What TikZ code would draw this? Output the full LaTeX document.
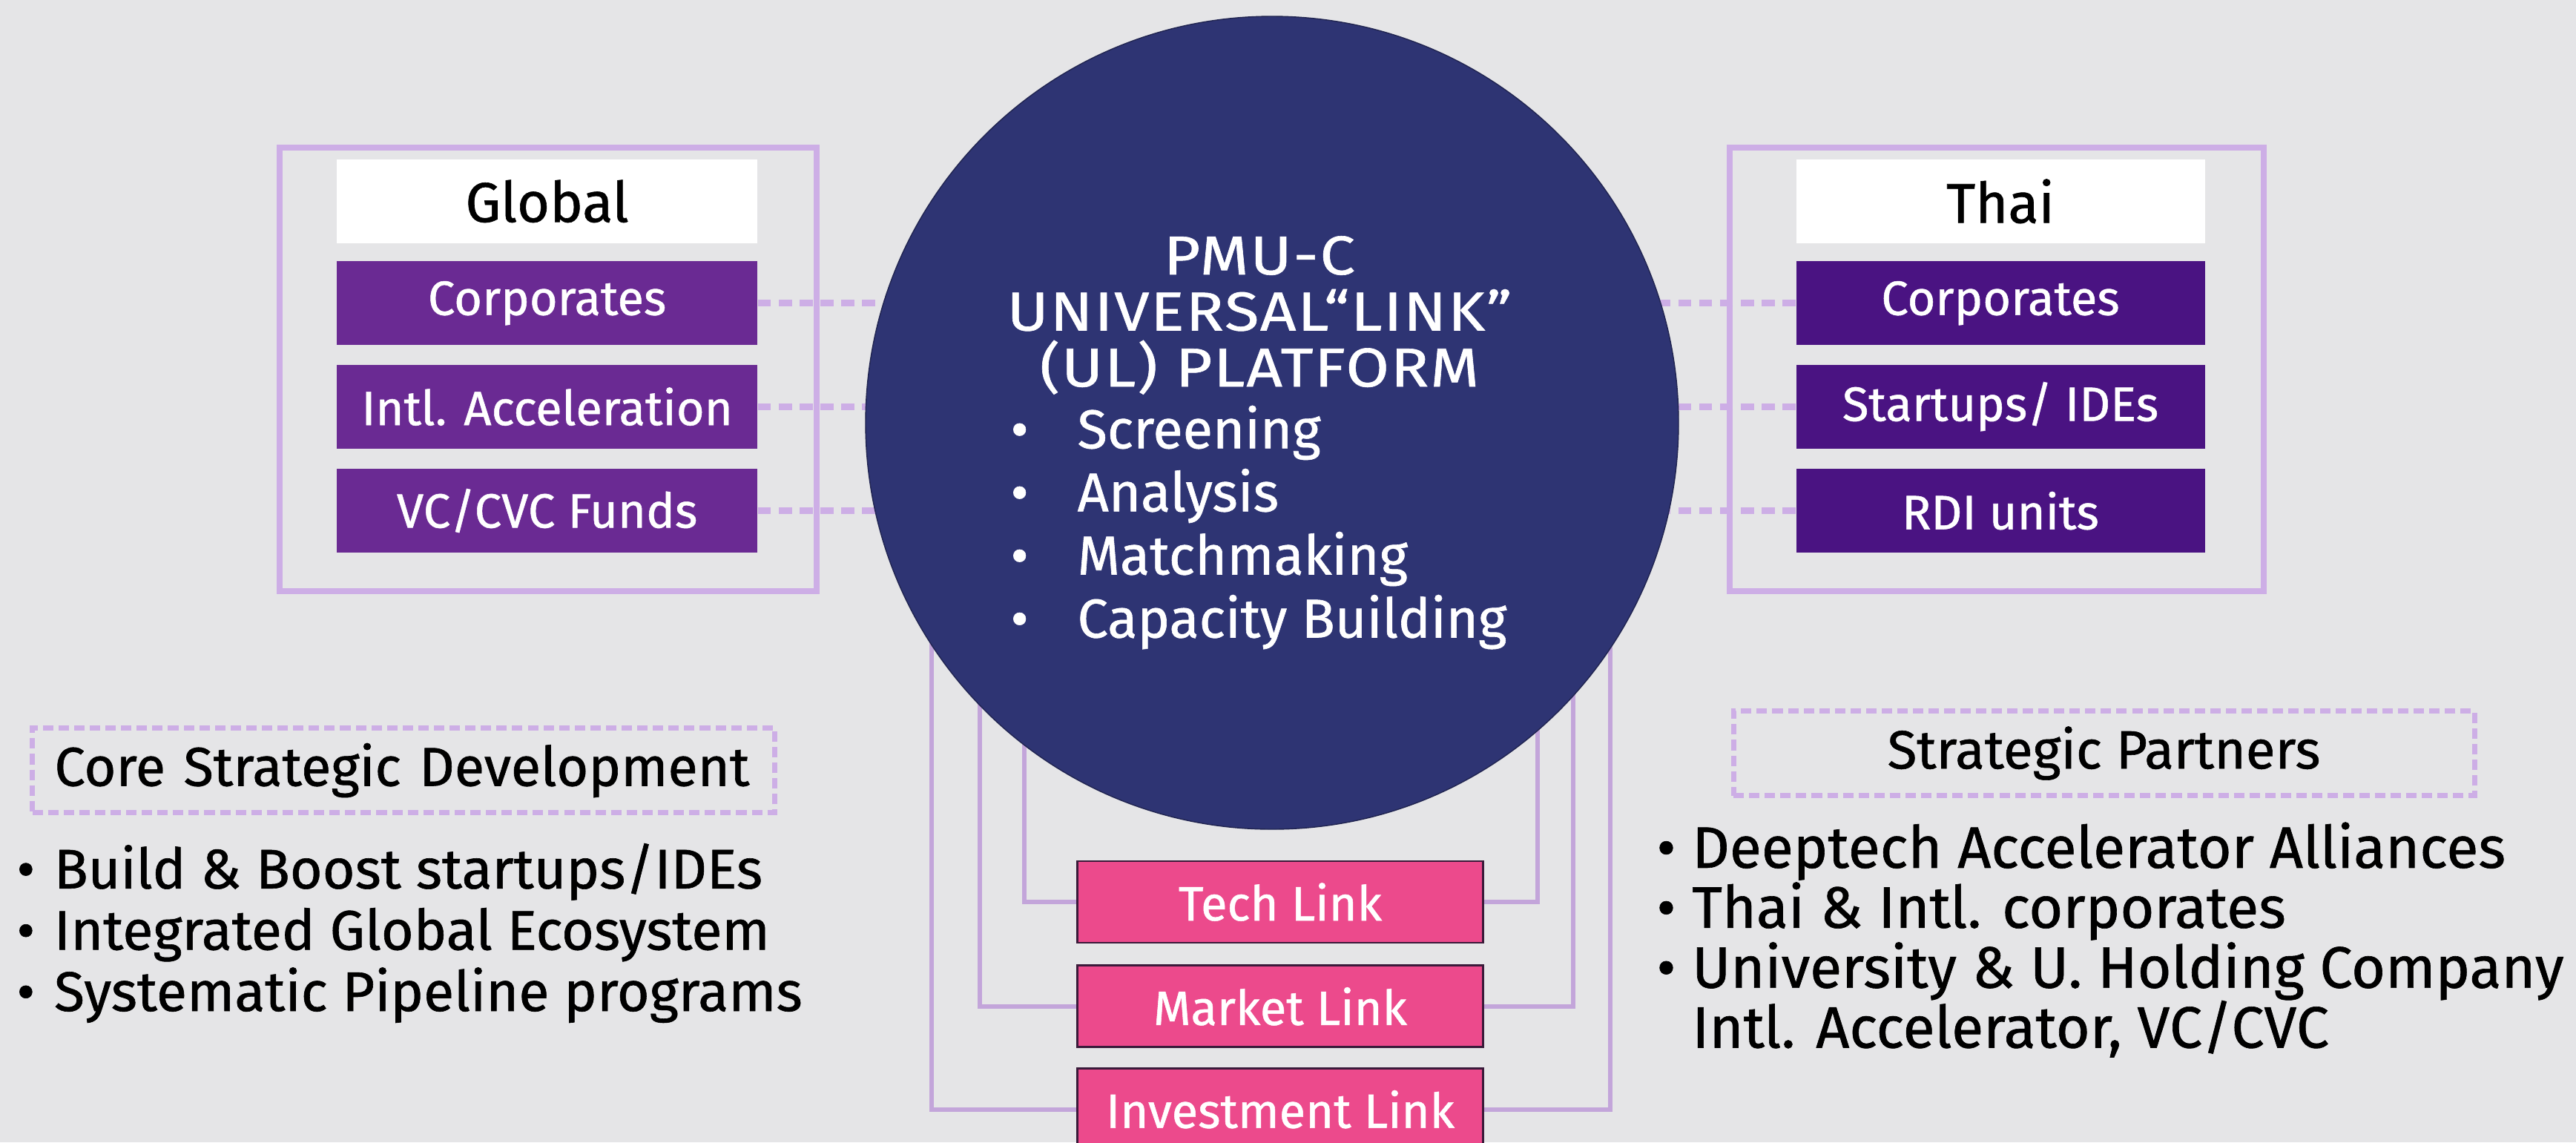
\documentclass[tikz,border=0pt]{standalone}
\usepackage{fontspec}
\setmainfont{Fira Sans}[FakeBold=0.8]
\newfontfamily\ulwide{Fira Sans}[FakeBold=0.8, FakeStretch=1.15, LetterSpace=2.5]
\usetikzlibrary{positioning, calc}
\definecolor{bgGray}{HTML}{E5E5E7}
\definecolor{frameLav}{HTML}{CDAEE6}
\definecolor{globalPurple}{HTML}{6A2A93}
\definecolor{thaiPurple}{HTML}{4A1382}
\definecolor{ulNavy}{HTML}{2E3473}
\definecolor{linkPink}{HTML}{EC4A8C}
\definecolor{linkEdge}{HTML}{3A1A3A}

\begin{document}
\begin{tikzpicture}[
    headbox/.style={rectangle, fill=white, inner sep=0pt, minimum height=1.13cm,
      font=\fontsize{21.5}{23}\selectfont},
    gbox/.style={rectangle, fill=globalPurple, text=white, inner sep=0pt,
      minimum width=5.67cm, minimum height=1.13cm, font=\fontsize{18.5}{20}\selectfont},
    tbox/.style={gbox, fill=thaiPurple, minimum width=5.51cm},
    linkbox/.style={rectangle, fill=linkPink, draw=linkEdge, line width=0.8pt, text=white,
      inner sep=0pt, minimum width=5.47cm, minimum height=1.1cm, font=\fontsize{18.5}{20}\selectfont},
    frame/.style={draw=frameLav, line width=2.2pt, rectangle, inner sep=0pt},
    dashline/.style={draw=frameLav, line width=2.6pt, dash pattern=on 5pt off 3pt},
    linkline/.style={draw=frameLav!95!black, line width=1.8pt},
    dashbox/.style={rectangle, draw=frameLav, line width=2pt, dash pattern=on 4pt off 2pt,
      minimum height=1.14cm, font=\fontsize{21}{23}\selectfont},
    listtext/.style={inner sep=0pt, align=left, font=\fontsize{21.4}{23.5}\selectfont}
  ]
  \clip (0,0) rectangle (34.73,-15.40);
  \fill[bgGray] (0,0) rectangle (34.73,-15.40);

  % left panel
  \node[frame, minimum width=7.24cm, minimum height=5.98cm] (GF) at (7.39,-4.98) {};
  \node[headbox, minimum width=5.67cm] (GH) at (7.376,-2.713) {Global};
  \node[gbox, below=0.23cm of GH] (G1) {Corporates};
  \node[gbox, below=0.25cm of G1] (G2) {Intl. Acceleration};
  \node[gbox, below=0.26cm of G2] (G3) {VC/CVC Funds};

  % right panel
  \node[frame, minimum width=7.2cm, minimum height=5.98cm] (TF) at (26.92,-4.98) {};
  \node[headbox, minimum width=5.51cm] (TH) at (26.97,-2.713) {Thai};
  \node[tbox, below=0.23cm of TH] (R1) {Corporates};
  \node[tbox, below=0.25cm of R1] (R2) {Startups/ IDEs};
  \node[tbox, below=0.26cm of R2] (R3) {RDI units};

  % links
  \coordinate (ULc) at (17.15,-5.70);
  \node[linkbox] (TL) at (17.26,-12.16) {Tech Link};
  \node[linkbox, below=0.28cm of TL] (ML) {Market Link};
  \node[linkbox, below=0.26cm of ML] (IL) {Investment Link};

  \foreach \b/\d in {TL/0.7, ML/1.3, IL/1.95} {
    \draw[linkline] (\b.west) -- ++(-\d,0) |- (ULc);
  }
  \foreach \b/\d in {TL/0.72, ML/1.2, IL/1.7} {
    \draw[linkline] (\b.east) -- ++(\d,0) |- (ULc);
  }
  \foreach \b in {G1, G2, G3, R1, R2, R3} {
    \draw[dashline] (\b) -- (\b -| ULc);
  }

  \node[circle, fill=ulNavy, draw=ulNavy!70!black, inner sep=0pt, minimum size=10.96cm] (UL) at (ULc) {};
  \node[text=white, align=center, inner sep=0pt, font=\ulwide\fontsize{21}{21.5}\selectfont]
    (ULtitle) at (16.98,-4.25) {PMU-C\\UNIVERSAL“LINK”\\(UL) PLATFORM};
  \node[text=white, align=left, inner sep=0pt, anchor=west, font=\fontsize{21}{24.2}\selectfont]
    (ULlist) at (13.62,-7.11) {•\hspace{0.66cm}Screening\\•\hspace{0.66cm}Analysis\\
      •\hspace{0.66cm}Matchmaking\\•\hspace{0.66cm}Capacity Building};

  % core strategic development
  \node[dashbox, minimum width=10.01cm, text width=10.01cm, inner xsep=0pt, align=left, anchor=west]
    (CSD) at (0.40,-10.385) {\hspace*{0.3cm}Core Strategic Development};
  \node[listtext, anchor=west] (CSDlist) at (0.22,-12.58)
    {•\hspace{0.26cm}Build \& Boost startups/IDEs\\•\hspace{0.26cm}Integrated Global Ecosystem\\
      •\hspace{0.26cm}Systematic Pipeline programs};

  % strategic partners
  \node[dashbox, minimum width=9.99cm, align=center, font=\fontsize{20.7}{23}\selectfont]
    (SP) at (28.365,-10.155) {Strategic Partners};
  \node[listtext, anchor=west, font=\fontsize{22.4}{23}\selectfont] (SPlist) at (22.33,-12.67)
    {•\hspace{0.22cm}Deeptech Accelerator Alliances\\•\hspace{0.22cm}Thai \& Intl. corporates\\
      •\hspace{0.22cm}University \& U. Holding Company\\\phantom{•}\hspace{0.22cm}Intl. Accelerator, VC/CVC};
\end{tikzpicture}
\end{document}
